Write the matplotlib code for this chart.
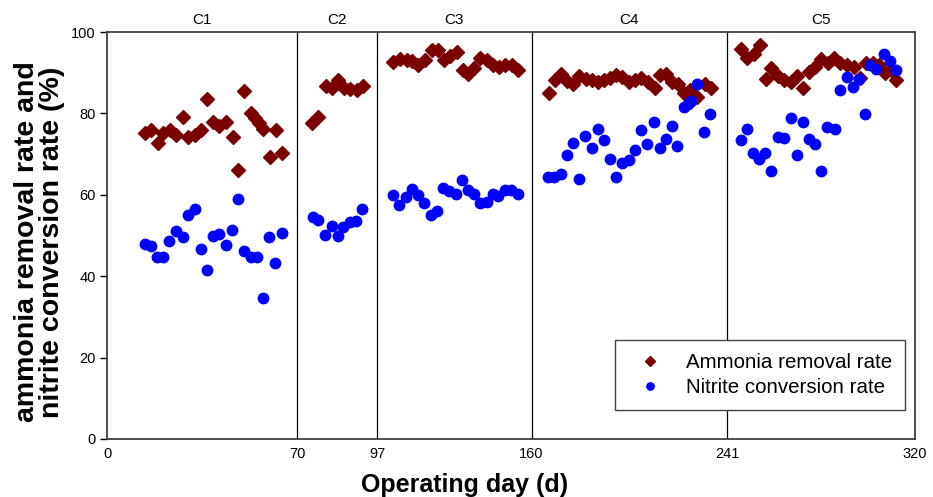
import numpy as np
import matplotlib
matplotlib.use("Agg")
import matplotlib.pyplot as plt

plt.rcParams['font.family'] = ['Liberation Sans', 'DejaVu Sans']

# ---------------- data ----------------
phase_breaks = [0, 70, 97, 160, 241, 320]
phase_labels = ["C1", "C2", "C3", "C4", "C5"]
y_ticks = [0, 20, 40, 60, 80, 100]

ammonia_day = [14.0, 16.2, 18.7, 20.7, 23.2, 25.4, 27.9, 30.0, 32.4, 34.5, 36.7, 39.2,
               41.4, 43.8, 46.3, 48.4, 50.6, 52.9, 54.5, 56.1, 57.6, 60.0, 62.3, 64.4,
               75.0, 77.2, 79.7, 81.7, 83.9, 85.9, 87.9, 90.1, 92.2,
               103.6, 106.4, 109.1, 111.2, 113.8, 116.6, 119.3, 121.8, 124.3, 126.8,
               129.5, 131.9, 134.2, 136.7, 139.0, 141.7, 144.4, 146.9, 149.2, 151.9, 154.6,
               167.2, 169.7, 172.2, 174.8, 177.3, 179.8, 182.4, 184.9, 187.4, 190.0,
               192.4, 195.2, 197.7, 200.3, 202.8, 205.5, 208.3, 211.0, 213.1, 215.9,
               218.2, 220.7, 223.2, 225.8, 228.7, 231.7, 234.5,
               246.8, 249.6, 252.3, 254.8, 257.3, 259.7, 262.3, 264.9, 267.8, 270.3,
               272.8, 275.5, 278.0, 280.5, 283.3, 286.0, 288.5, 291.3, 294.2, 296.9,
               299.3, 302.2, 304.7, 307.5, 309.9, 312.0]
ammonia_rate = [75.1, 76.0, 72.7, 75.1, 75.8, 74.6, 79.2, 74.3, 74.8, 76.0, 83.5, 77.8,
                76.8, 77.8, 74.3, 66.2, 85.5, 80.0, 78.9, 77.6, 76.2, 69.4, 75.8, 70.2,
                77.7, 79.0, 86.8, 86.3, 88.2, 86.3, 86.0, 85.8, 86.8,
                92.6, 93.3, 93.1, 92.9, 91.8, 93.1, 95.7, 95.5, 93.1, 94.2,
                95.0, 90.6, 89.8, 91.1, 93.6, 93.0, 92.0, 91.5, 91.8, 92.0, 90.6,
                85.1, 88.1, 89.6, 88.0, 87.2, 89.2, 88.4, 88.1, 87.8, 88.1,
                88.6, 89.4, 88.9, 87.6, 88.1, 88.8, 87.6, 86.3, 89.4, 89.8,
                87.6, 87.2, 85.1, 85.7, 84.0, 87.2, 86.3,
                95.8, 93.5, 94.5, 96.9, 88.4, 91.2, 89.2, 88.1, 87.6, 89.2,
                86.2, 90.2, 91.4, 93.3, 92.4, 93.5, 92.3, 91.8, 91.4, 88.8,
                92.4, 92.4, 92.0, 90.0, 90.6, 88.1]

nitrite_day = [14.0, 16.2, 18.5, 20.7, 22.8, 25.4, 27.9, 30.0, 32.4, 34.5, 36.7, 39.2,
               41.4, 43.7, 46.2, 48.4, 50.6, 52.9, 55.2, 57.4, 59.7, 61.9, 64.4,
               75.3, 77.2, 79.5, 81.7, 83.7, 85.6, 87.9, 89.9, 91.8,
               103.6, 106.1, 108.7, 111.2, 113.6, 116.2, 118.9, 121.3, 123.8, 126.5,
               129.1, 131.5, 134.2, 136.6, 139.0, 141.7, 144.2, 146.5, 149.2, 151.6, 154.4,
               166.9, 169.4, 172.1, 174.5, 177.3, 179.8, 182.1, 185.1, 187.6, 190.0,
               192.7, 195.2, 197.5, 200.4, 202.8, 205.5, 207.9, 210.6, 213.1, 215.6,
               218.1, 220.3, 223.2, 224.8, 226.2, 228.7, 231.3, 233.8,
               246.8, 249.5, 252.0, 254.6, 256.9, 259.5, 262.3, 264.9, 267.8, 270.3,
               272.8, 275.5, 278.0, 280.4, 282.9, 286.2, 288.5, 291.3, 293.8, 296.3,
               298.8, 301.2, 303.7, 306.8, 309.6, 312.0]
nitrite_rate = [48.0, 47.3, 44.6, 44.6, 48.7, 51.1, 49.6, 55.0, 56.4, 46.7, 41.5, 49.9,
                50.4, 47.6, 51.4, 58.9, 46.1, 44.6, 44.6, 34.7, 49.6, 43.3, 50.7,
                54.6, 53.8, 50.2, 52.4, 49.8, 52.0, 53.3, 53.6, 56.4,
                59.9, 57.5, 59.4, 61.4, 59.9, 58.1, 55.0, 56.0, 61.6, 61.0,
                60.2, 63.6, 61.1, 60.2, 57.9, 58.3, 60.1, 59.7, 61.1, 61.1, 60.2,
                64.4, 64.4, 65.2, 69.9, 72.7, 64.0, 74.5, 71.6, 76.2, 73.5,
                68.9, 64.4, 67.9, 68.5, 70.9, 76.0, 72.5, 77.8, 71.5, 73.6,
                76.8, 72.1, 81.6, 82.3, 83.1, 87.2, 75.4, 79.9,
                73.5, 76.2, 70.2, 68.9, 70.2, 65.8, 74.1, 73.9, 78.9, 69.9,
                77.8, 73.6, 72.5, 65.9, 76.6, 76.2, 85.8, 89.0, 86.6, 88.5,
                79.9, 91.8, 91.0, 94.6, 92.9, 90.7]

# ------------- layout: piecewise axis positions of the phase breaks -------------
break_frac = [0.0, 0.2351, 0.3342, 0.5254, 0.7673, 1.0]

def fwd(x):
    return np.interp(x, phase_breaks, break_frac, left=np.nan, right=np.nan)

def inv(f):
    return np.interp(f, break_frac, phase_breaks)

fig = plt.figure(figsize=(9.33, 4.97), dpi=100)
ax = fig.add_axes([107/933, 1 - 439/497, 808/933, 407/497])
ax.set_xscale('function', functions=(fwd, inv))
ax.set_xlim(0, 320)
ax.set_ylim(0, 100)

for b in phase_breaks[1:-1]:
    ax.axvline(b, color='black', lw=0.9, zorder=1)

ax.plot(ammonia_day, ammonia_rate, linestyle='none', marker='D', ms=7.5,
        color='#7a0000', mec='#7a0000', label='Ammonia removal rate', zorder=3)
ax.plot(nitrite_day, nitrite_rate, linestyle='none', marker='o', ms=7.5,
        color='#0000ff', mec='#0000ff', label='Nitrite conversion rate', zorder=3)

# phase labels centred in each segment
for i, lab in enumerate(phase_labels):
    xc = (break_frac[i] + break_frac[i + 1]) / 2
    ax.text(xc, 1.013, lab, transform=ax.transAxes, ha='center', va='bottom',
            fontsize=11)

ax.set_xticks(phase_breaks)
ax.set_xticklabels([str(v) for v in phase_breaks])
ax.set_yticks(y_ticks)
ax.tick_params(axis='x', length=0, pad=6, labelsize=10.5)
ax.tick_params(axis='y', length=5, width=1, direction='out', labelsize=10.5, pad=3)
for s in ax.spines.values():
    s.set_color('#404040')
    s.set_linewidth(1.3)

ax.set_xlabel('Operating day (d)', fontsize=18, fontweight='bold')
ax.xaxis.set_label_coords(0.442, -0.084)
ax.set_ylabel('ammonia removal rate and\nnitrite conversion rate (%)', fontsize=20.5,
              fontweight='bold', linespacing=0.95)
ax.yaxis.set_label_coords(-0.052, 0.484)

leg = ax.legend(loc='lower right', bbox_to_anchor=(0.988, 0.071), borderaxespad=0,
                fontsize=14.8, frameon=True, fancybox=False, edgecolor='#404040',
                framealpha=1, markerscale=0.7, handlelength=2.2, handletextpad=0.65,
                borderpad=0.62, labelspacing=0.3)
leg.get_frame().set_linewidth(1.0)

fig.savefig('out.png', dpi=100)
